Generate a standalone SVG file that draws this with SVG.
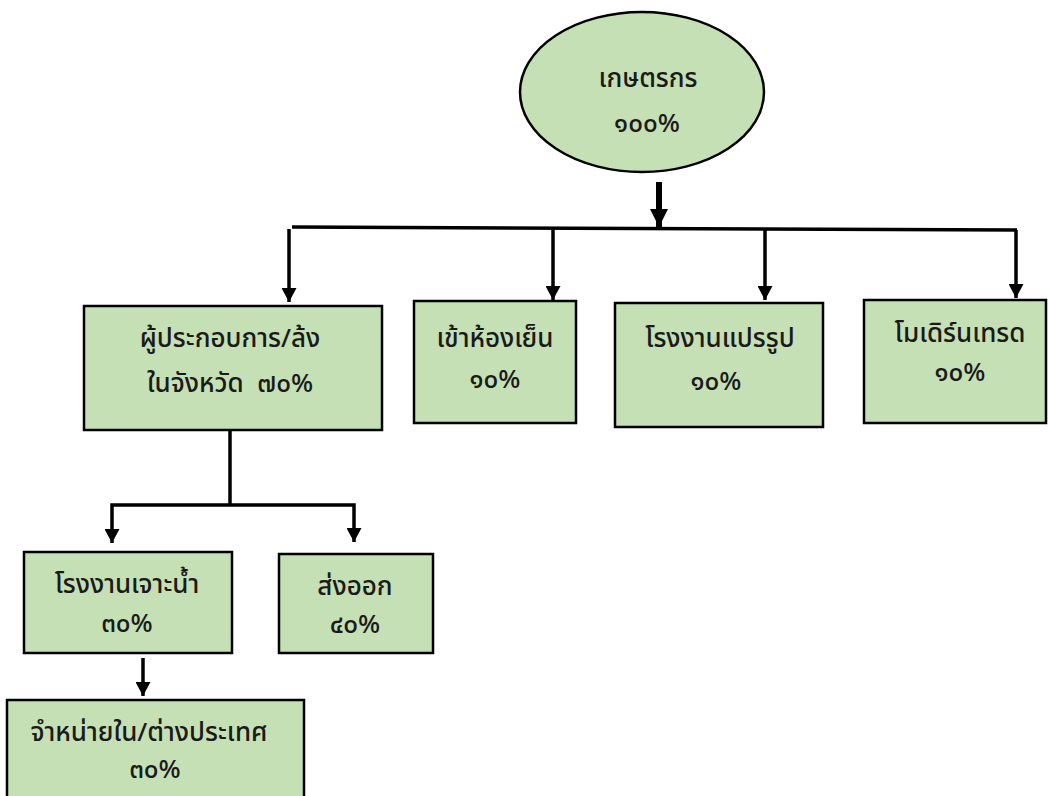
<svg xmlns="http://www.w3.org/2000/svg" width="1048" height="796" viewBox="0 0 1048 796">
<defs>
<style>
.node{fill:#C5E0B4;stroke:#000;stroke-width:2.5}
.t{font-family:"Noto Sans Thai","Noto Sans","DejaVu Sans",sans-serif;font-size:26px;font-weight:500;fill:#1a1a1a;text-anchor:middle}
.c{fill:none;stroke:#000;stroke-width:3.5}
</style>
<marker id="ah" viewBox="0 0 14 15" refX="14" refY="7.5" markerWidth="14" markerHeight="15" markerUnits="userSpaceOnUse" orient="auto">
<path d="M0,0 L14,7.5 L0,15 z" fill="#000"/>
</marker>
<marker id="ahb" viewBox="0 0 18 18" refX="18" refY="9" markerWidth="18" markerHeight="18" markerUnits="userSpaceOnUse" orient="auto">
<path d="M0,0 L18,9 L0,18 z" fill="#000"/>
</marker>
</defs>
<rect width="1048" height="796" fill="#fff"/>
<g id="connectors">
<line x1="659" y1="182" x2="659" y2="227" stroke="#000" stroke-width="6" marker-end="url(#ahb)"/>
<line class="c" x1="292" y1="227" x2="1017" y2="230" stroke-width="4"/>
<line class="c" x1="289" y1="229" x2="289" y2="302" marker-end="url(#ah)"/>
<line class="c" x1="553" y1="228" x2="553" y2="300" marker-end="url(#ah)"/>
<line class="c" x1="765" y1="229" x2="765" y2="300" marker-end="url(#ah)"/>
<line class="c" x1="1016" y1="230" x2="1016" y2="298" marker-end="url(#ah)"/>
<line class="c" x1="230" y1="430" x2="230" y2="505"/>
<path class="c" d="M230,505 H112 V543" marker-end="url(#ah)"/>
<path class="c" d="M230,505 H354 V542" marker-end="url(#ah)"/>
<line class="c" x1="143" y1="658" x2="143" y2="696" marker-end="url(#ah)"/>
</g>
<g id="n-farmer">
<ellipse class="node" cx="642" cy="92" rx="122" ry="80"/>
<text class="t" x="648" y="87">เกษตรกร</text>
<text class="t" x="647" y="132">๑๐๐%</text>
</g>
<g id="n-operator">
<rect class="node" x="84" y="306" width="298" height="124"/>
<text class="t" x="230" y="347">ผู้ประกอบการ/ล้ง</text>
<text class="t" x="230" y="392" xml:space="preserve">ในจังหวัด  ๗๐%</text>
</g>
<g id="n-cold">
<rect class="node" x="414" y="301" width="162" height="122"/>
<text class="t" x="495" y="347">เข้าห้องเย็น</text>
<text class="t" x="495" y="388">๑๐%</text>
</g>
<g id="n-process">
<rect class="node" x="615" y="303" width="208" height="124"/>
<text class="t" x="720" y="347">โรงงานแปรรูป</text>
<text class="t" x="716" y="390">๑๐%</text>
</g>
<g id="n-modern">
<rect class="node" x="864" y="300" width="182" height="123"/>
<text class="t" x="960" y="342" font-size="25">โมเดิร์นเทรด</text>
<text class="t" x="960" y="381">๑๐%</text>
</g>
<g id="n-drill">
<rect class="node" x="24" y="552" width="208" height="101"/>
<text class="t" x="127" y="593">โรงงานเจาะน้ำ</text>
<text class="t" x="127" y="632">๓๐%</text>
</g>
<g id="n-export">
<rect class="node" x="279" y="554" width="154" height="99"/>
<text class="t" x="355" y="595">ส่งออก</text>
<text class="t" x="355" y="633">๔๐%</text>
</g>
<g id="n-sell">
<rect class="node" x="7" y="700" width="297" height="110"/>
<text class="t" x="149" y="741">จำหน่ายใน/ต่างประเทศ</text>
<text class="t" x="155" y="778">๓๐%</text>
</g>
</svg>
